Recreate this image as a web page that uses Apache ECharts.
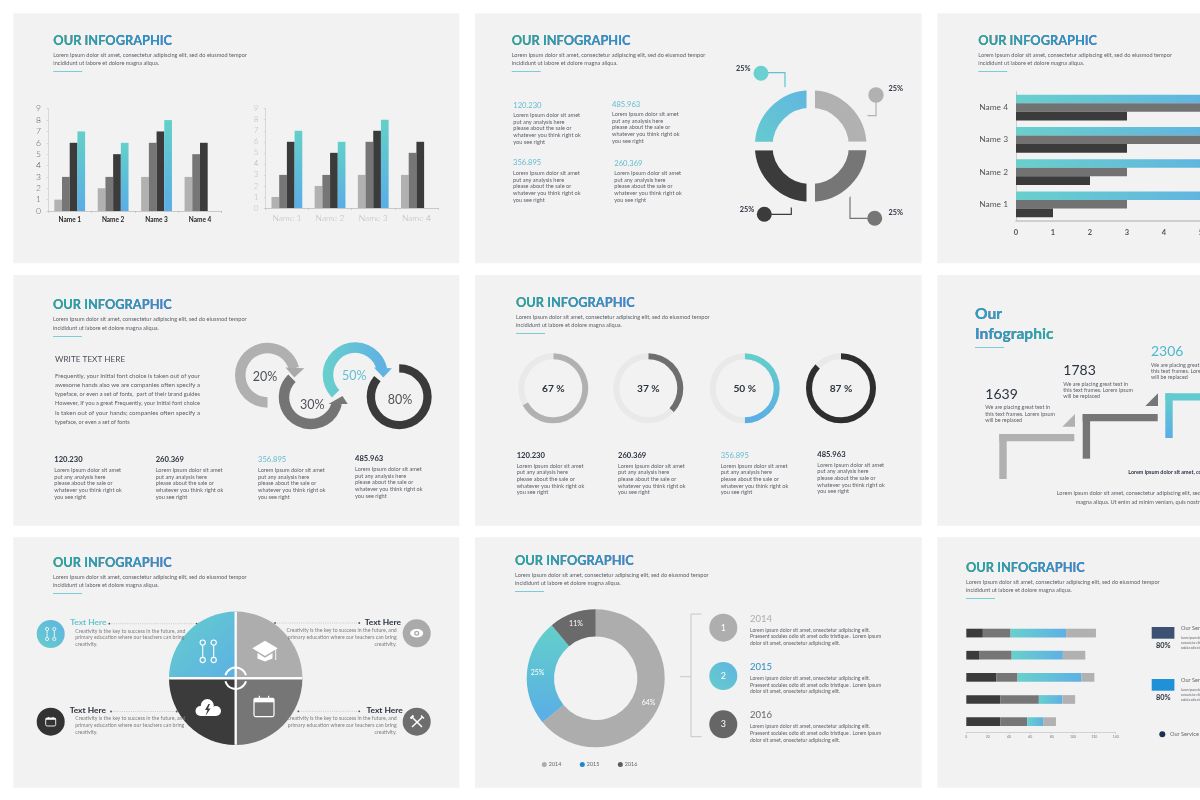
<!DOCTYPE html>
<html>
<head>
<meta charset="utf-8">
<style>html,body{margin:0;padding:0;background:#fff}#c{width:1200px;height:800px}</style>
<script src="https://cdn.jsdelivr.net/npm/echarts@6/dist/echarts.min.js"></script>
</head>
<body>
<div id="c"></div>
<script>
// ---------- DATA ----------
const names = ['Name 1', 'Name 2', 'Name 3', 'Name 4'];
const colLight = [1, 2, 3, 3];
const colMid = [3, 3, 6, 5];
const colDark = [6, 5, 7, 6];
const colTeal = [7, 6, 8, null];

const hDark = [1, 2, 3, 3];
const hMid = [3, 3, 5.2, 5.2];
const hTeal = [6, 6, 6, 6];

const quarterNames = ['Q2', 'Q3', 'Q4', 'Q1'];
const quarterValues = [25, 25, 25, 25];
const quarterLabels = ['25%', '25%', '25%', '25%'];

const arrowArcs = [71, 59, 59, 86];
const arrowLabels = ['20%', '30%', '50%', '80%'];

const gaugeValues = [67, 37, 50, 87];
const gaugeLabels = ['67 %', '37 %', '50 %', '87 %'];

const yearNames = ['2014', '2015', '2016'];
const yearValues = [64, 25, 11];
const yearLabels = ['64%', '25%', '11%'];

const stackRows = ['Row 1', 'Row 2', 'Row 3', 'Row 4', 'Row 5'];
const stackDark = [15.5, 12.5, 28, 32, 32];
const stackMid = [26, 30, 20, 36, 25];
const stackTeal = [52, 48, 60, 22, 15];
const stackLight = [28, 21, 12, 12, 12];

const loremTop = ['Lorem Ipsum dolor sit amet, consectetur adipiscing elit, sed do eiusmod tempor', 'incididunt ut labore et dolore magna aliqua.'];
const loremBlock = ['Lorem Ipsum dolor sit amet', 'put any analysis here', 'please about the sale or', 'whatever you think right ok', 'you see right'];
const numbers = ['120.230', '260.369', '356.895', '485.963'];
const paragraph = [
  'Frequently, your Initial font choice is taken out of your',
  'awesome hands also we are companies often specify a',
  'typeface, or even a set of fonts,  part of their brand guides',
  'However, If you a great Frequently, your Initial font choice',
  'Is taken out of your hands; companies often specify a',
  'typeface, or even a set of fonts'];
const stepNumbers = ['1639', '1783', '2306'];
const stepBody = ['We are placing great text in', 'this text frames. Lorem ipsum', 'will be replaced'];
const creativity = ['Creativity is the key to success in the future, and', 'primary education where our teachers can bring', 'creativity.'];
const yearBody = ['Lorem ipsum dolor sit amet, onsectetur adipiscing elit.', 'Praesent sodales odio sit amet odio tristique . Lorem ipsum', 'dolor sit amet, onsectetur adipiscing elit.'];

// ---------- STYLE ----------
const FONT = 'Lato';
const PANEL = '#f2f2f2', LIGHT = '#b1b1b1', MID = '#767676', DARK = '#3b3b3b', BODY = '#5c6067', INK = '#2b3340';
const grad = (x, y, x2, y2, a, b) => ({type:'linear',x:x,y:y,x2:x2,y2:y2,colorStops:[{offset:0,color:a},{offset:1,color:b}]});
const vGrad = () => grad(0,0,0,1,'#63d0c9','#5aade6');
const hGrad = () => grad(0,0,1,0,'#68d0cc','#5fb0e4');
const dGrad = () => grad(0,1,1,0,'#66cdcc','#5fb4e2');
const tlGrad = () => grad(0,0,1,1,'#66cfcb','#5cb0e4');

const measureCtx = document.createElement('canvas').getContext('2d');
const g = [];
function T(x, y, text, size, color, o) {
  o = o || {};
  const weight = o.weight || 'normal';
  const el = {type:'text', x:x, y:y, z:o.z || 60, silent:true, style:{
    text:text, fill:color, font: weight + ' ' + size + 'px ' + FONT, align:o.align || 'left', verticalAlign:'middle'
  }};
  if (o.fit) {
    measureCtx.font = el.style.font;
    el.scaleX = o.fit / measureCtx.measureText(text).width;
  }
  g.push(el);
}
function lines(x, y0, step, arr, size, color, o) { arr.forEach((t, i) => T(x, y0 + i * step, t, size, color, o)); }
function rect(x, y, w, h, fill, z, r) { g.push({type:'rect', z:z === undefined ? 1 : z, silent:true, shape:{x:x,y:y,width:w,height:h,r:r||0}, style:{fill:fill}}); }
function circle(x, y, r, fill, z, stroke, lw) { g.push({type:'circle', z:z === undefined ? 1 : z, silent:true, shape:{cx:x,cy:y,r:r}, style:{fill:fill, stroke:stroke||null, lineWidth:lw||0}}); }
function poly(pts, fill, z) { g.push({type:'polygon', z:z === undefined ? 1 : z, silent:true, shape:{points:pts}, style:{fill:fill}}); }
function pline(pts, stroke, lw, z, dash) { g.push({type:'polyline', z:z === undefined ? 1 : z, silent:true, shape:{points:pts}, style:{fill:null, stroke:stroke, lineWidth:lw, lineDash:dash||null}}); }
function arc(cx, cy, r, a, b, stroke, lw, z) { g.push({type:'arc', z:z, silent:true, shape:{cx:cx,cy:cy,r:r,startAngle:a,endAngle:b}, style:{fill:null, stroke:stroke, lineWidth:lw}}); }
// Title text is real text; a "lighten" gradient rectangle tints it as in the reference.
function title(x, y, text, size, w, c0, c1) {
  T(x, y, text, size, '#000000', {weight:'bold'});
  g.push({type:'rect', z:61, silent:true, shape:{x:x - 1, y:y - size * 0.62, width:w + 3, height:size * 1.24},
    style:{fill:grad(0,0,1,0,c0,c1), blend:'lighten'}});
}
function header(x, y) {
  title(x, y + 0.8, 'OUR INFOGRAPHIC', 12.8, 118, '#18aaa2', '#2b8fd2');
  lines(x, y + 15, 8.3, loremTop, 5.6, BODY);
  rect(x, Math.round(y + 31), 29, 1, '#7ccbd8', 2);
}

// ---------- PANELS ----------
[[13.3,13.3,446,250],[475,13.3,446.7,250],[937.3,13.3,263,250],
 [13.3,275,446,250.7],[475,275,446.7,250.7],[937.3,275,263,250.7],
 [13.3,537.3,446,250.4],[475,537.3,446.7,250.4],[937.3,537.3,263,250.4]]
 .forEach(p => g.push({type:'rect', z:-1, silent:true, shape:{x:p[0],y:p[1],width:p[2],height:p[3]}, style:{fill:PANEL}}));

header(53.3, 40); header(511.7, 40); header(978.3, 40);
header(53, 304.5); header(516, 302); header(53, 562); header(515, 560.3); header(966, 566.7);

// ---------- PANEL 2 TEXT + CALLOUTS ----------
function block(x, yNum, yBody, num, color, weight) {
  T(x, yNum, num, 7.6, color, {weight:weight || 'normal'});
  lines(x, yBody, 6.67, loremBlock, 5.6, BODY);
}
block(513.3, 105.3, 115.3, numbers[0], '#62bccf');
block(612, 104.3, 114.3, numbers[3], '#62bccf');
block(513, 163, 173.3, numbers[2], '#62bccf');
block(614.3, 163.3, 173.3, numbers[1], '#62bccf');
circle(761, 73.3, 7.5, '#6ccfd0', 5);
pline([[768,72.7],[785,72.7],[785,94]], '#5cc4d0', 1.2, 1);
circle(876, 95, 7.7, LIGHT, 5);
pline([[876,102],[876,115.7],[863.3,115.7]], LIGHT, 1.2, 1);
circle(764.3, 214.3, 7.5, DARK, 5);
pline([[771,214.3],[791.3,214.3],[791.3,201.7]], DARK, 1.2, 1);
circle(874.7, 218.3, 7.5, MID, 5);
pline([[867.3,218.3],[850,218.3],[850,191]], MID, 1.2, 1);
T(743.3, 68.5, quarterLabels[0], 7.3, INK, {weight:'bold', align:'center'});
T(895.7, 88.5, quarterLabels[1], 7.3, INK, {weight:'bold', align:'center'});
T(747, 210, quarterLabels[2], 7.3, INK, {weight:'bold', align:'center'});
T(895.7, 212.7, quarterLabels[3], 7.3, INK, {weight:'bold', align:'center'});

// ---------- PANEL 4 ----------
T(55, 359.3, 'WRITE TEXT HERE', 8.2, '#4a4f58');
[376, 385.2, 394.3, 403.6, 412.9].forEach((y, i) => T(55, y, paragraph[i], 5.5, BODY, {fit:145}));
T(55, 422, paragraph[5], 5.5, BODY);
[[54.3,460,470.3,0,INK],[155.7,460,470.3,1,INK],[258,460,470.3,2,'#62bccf'],[355,459,469.3,3,INK]].forEach(b =>
  block(b[0], b[1], b[2], numbers[b[3]], b[4], b[4] === INK ? 'bold' : 'normal'));
poly([[285.5,367.5],[304.3,368.3],[294.3,377.5]], '#a9a9a9', 5);
poly([[328.5,404],[347.7,404],[342.5,396]], MID, 5);
poly([[374,367.5],[391.9,368.3],[383.3,377.5]], '#5fb4e2', 5);
T(265, 376.7, arrowLabels[0], 12.5, '#4f5258', {align:'center'});
T(312.3, 405, arrowLabels[1], 12.5, '#4f5258', {align:'center'});
T(354.3, 375.7, arrowLabels[2], 12.5, '#62bfd2', {align:'center'});
T(400, 400, arrowLabels[3], 12.5, '#4f5258', {align:'center'});

// ---------- PANEL 5 ----------
const gaugeX = [553.3, 648.3, 744.7, 841];
gaugeLabels.forEach((t, i) => T(gaugeX[i], 388.3, t, 10.2, INK, {weight:'bold', align:'center'}));
[[516.7,455.3,465.7,0,INK],[618,455.3,465.7,1,INK],[720.7,455.3,465.7,2,'#62bccf'],[817.3,454.3,464.7,3,INK]].forEach(b =>
  block(b[0], b[1], b[2], numbers[b[3]], b[4], b[4] === INK ? 'bold' : 'normal'));

// ---------- PANEL 6 ----------
title(975, 314, 'Our', 15.6, 30, '#2a9fc4', '#2a9fc0');
title(975, 334, 'Infographic', 15.6, 79, '#2a97c8', '#20ada8');
rect(975, 347, 29, 1, '#7ccbd8', 2);
[[985.3,394.3,407.7,0,INK],[1063.3,370.3,384,1,INK],[1151,351,365,2,'#4fb8cf']].forEach(b => {
  T(b[0], b[1], stepNumbers[b[3]], 14, b[4]);
  lines(b[0], b[2], 6.2, stepBody, 5.4, BODY);
});
rect(999.3, 434, 7.4, 45, LIGHT); rect(999.3, 434, 75, 7.3, LIGHT);
poly([[1062.3,426.7],[1075,426.7],[1075,414]], LIGHT);
rect(1082.7, 414, 7.4, 44.7, MID); rect(1082.7, 414, 75, 7.3, MID);
poly([[1145.3,406],[1158,406],[1158,393.3]], MID);
rect(1165.3, 393.3, 7.4, 44.7, vGrad()); rect(1165.3, 393.3, 40, 7.3, '#63cad2');
T(1128.3, 472, 'Lorem ipsum dolor sit amet, consectetur adipiscing elit', 5.4, INK, {weight:'bold'});
T(1056.7, 493, 'Lorem ipsum dolor sit amet, consectetur adipiscing elit, sed do eiusmod tempor incididunt ut labore et dolore', 5.6, BODY);
T(1075.7, 501.7, 'magna aliqua. Ut enim ad minim veniam, quis nostrud exercitation', 5.6, BODY);

// ---------- PANEL 7 ----------
const cX = 235.7, cY = 678.3;
function callout(xText, yText, label, color, align, dotNear, dotFar, yDot, xBody, yBody) {
  T(xText, yText, label, 8.4, color, {weight:'bold', align:align});
  pline([[dotNear,yDot],[dotFar,yDot]], '#b9b9b9', 0.7, 1, [1,1.2]);
  circle(dotNear, yDot, 0.9, '#555', 1);
  circle(dotFar, yDot, 0.9, '#555', 1);
  lines(xBody, yBody, 6.67, creativity, 5.2, '#7d7d7d', {align:align});
}
callout(70.3, 622.7, 'Text Here', '#66c6cc', 'left', 109.3, 196.7, 623.7, 75.3, 631);
callout(401, 622.3, 'Text Here', INK, 'right', 359.3, 275, 623, 396.7, 630.7);
callout(69.7, 710.3, 'Text Here', INK, 'left', 111, 176.7, 711.5, 75.3, 718.7);
callout(402.7, 710.3, 'Text Here', INK, 'right', 359.3, 298.3, 711.3, 396.7, 718.7);
circle(50.7, 634, 14, dGrad(), 5);
circle(50.7, 721.7, 14, '#333', 5);
circle(416.7, 633.3, 14, '#aaaaaa', 5);
circle(416.7, 721.7, 14, '#6e6e6e', 5);
const Z = 40;
function linkIcon(x, y, dx, h, r, lw) {
  [-dx, dx].forEach(d => {
    circle(x + d, y - h, r, null, Z, '#fff', lw);
    circle(x + d, y + h, r, null, Z, '#fff', lw);
    pline([[x + d, y - h + r],[x + d, y + h - r]], '#fff', lw, Z);
  });
}
linkIcon(208.2, 651.3, 5.5, 8.7, 2.6, 1.1);
linkIcon(50.7, 634, 3.6, 5, 1.6, 0.8);
poly([[252.3,648.3],[265,640.7],[277.7,648.3],[265,656]], '#fff', Z);
poly([[257.5,653],[265,657.8],[272.5,653],[272.5,658.5],[265,661.5],[257.5,658.5]], '#fff', Z);
pline([[275.7,649],[275.7,660]], '#fff', 0.9, Z);
circle(207.3, 705.5, 6.5, '#fff', Z); circle(200.5, 711, 5, '#fff', Z); circle(216, 711, 5, '#fff', Z);
rect(200.5, 708, 15.5, 8, '#fff', Z);
poly([[208.5,704],[205,710],[207.5,710],[205.5,716],[210.5,708.5],[208,708.5],[210,704]], DARK, Z + 1);
function calIcon(x, y, w, h, lw) {
  g.push({type:'rect', z:Z, silent:true, shape:{x:x,y:y,width:w,height:h,r:1.5}, style:{fill:null, stroke:'#fff', lineWidth:lw}});
  rect(x, y, w, h * 0.22, '#fff', Z);
  pline([[x + w * 0.27, y - h * 0.14],[x + w * 0.27, y + h * 0.1]], '#fff', lw, Z);
  pline([[x + w * 0.73, y - h * 0.14],[x + w * 0.73, y + h * 0.1]], '#fff', lw, Z);
}
calIcon(254, 698.3, 20, 18.3, 1.2);
calIcon(45.7, 718, 10, 8, 0.9);
g.push({type:'ellipse', z:Z, silent:true, shape:{cx:416.7,cy:633.3,rx:6.5,ry:4.2}, style:{fill:'#fff'}});
circle(416.7, 633.3, 2.5, '#aaaaaa', Z + 1);
circle(416.7, 633.3, 1.2, '#fff', Z + 2);
pline([[412,717],[422,727]], '#fff', 1.5, Z);
pline([[422.5,717],[412,727]], '#fff', 1.5, Z);
pline([[410.5,718.5],[413.5,715.5]], '#fff', 2, Z);
pline([[421,715.5],[424,718.5]], '#fff', 1.2, Z);
rect(cX - 66.5, cY - 1.2, 133, 2.4, '#fbfbfb', 30);
rect(cX - 1.2, cY - 66.5, 2.4, 133, '#fbfbfb', 30);
arc(cX, cY, 10.7, Math.PI + 0.28, 2 * Math.PI - 0.28, '#fff', 2, Z);
arc(cX, cY, 10.7, 0.28, Math.PI - 0.28, '#fff', 2, Z);

// ---------- PANEL 8 ----------
pline([[701.7,614],[691,614],[691,736.7],[701.7,736.7]], '#bdbdbd', 0.8, 1);
pline([[680,676.7],[691,676.7]], '#bdbdbd', 0.8, 1);
circle(723.3, 627.7, 14, '#aeaeae', 5);
circle(723.3, 676, 14, dGrad(), 5);
circle(723.3, 724.3, 14, '#666', 5);
['1','2','3'].forEach((n, i) => T(723.3, [627.7,676,724.3][i], n, 9, '#fff', {align:'center'}));
[[618.7,'#adadad',630],[667,'#2a8fc6',678.3],[715,'#666',726.7]].forEach((b, i) => {
  T(750, b[0], yearNames[i], 9.5, b[1]);
  lines(750, b[2], 6.67, yearBody, 5.1, BODY, {});
});

// ---------- PANEL 9 RIGHT ----------
rect(1151.7, 627, 22.7, 11.7, '#3d5272');
rect(1151.7, 679, 22.7, 11.7, '#2090d8');
T(1163.3, 645.7, '80%', 7.4, INK, {weight:'bold', align:'center'});
T(1163.3, 697.7, '80%', 7.4, INK, {weight:'bold', align:'center'});
T(1181, 627.7, 'Our Service', 5.6, '#666');
T(1181, 680, 'Our Service', 5.6, '#666');
[637.7, 690].forEach(y => lines(1181, y, 5, ['Lorem ipsum dolor', 'consectetur elit sed', 'sodales odio sit'], 2.8, BODY));
circle(1162.3, 734.3, 3, '#1f3050');
T(1170, 733.7, 'Our Service', 5.6, '#666');

// ---------- SERIES ----------
function bar(name, data, color, xi, w) {
  return {type:'bar', name:name, data:data, xAxisIndex:xi, yAxisIndex:xi, barWidth:w, barGap:'0%', silent:true, itemStyle:{color:color}};
}
function stackBar(name, data, color) {
  return {type:'bar', name:name, data:data, xAxisIndex:3, yAxisIndex:3, barWidth:8.7, stack:'total', silent:true, itemStyle:{color:color}};
}
function pie(center, radius, start, data) {
  return {type:'pie', center:center, radius:radius, startAngle:start, silent:true, label:{show:false}, labelLine:{show:false}, data:data};
}
function arcData(v, color) {
  return [{value:v, name:'arc', itemStyle:{color:color}}, {value:100 - v, name:'rest', itemStyle:{color:'transparent'}}];
}
function gaugeData(v, color) {
  return [{value:v, name:'done', itemStyle:{color:color}}, {value:100 - v, name:'todo', itemStyle:{color:'#e9e9e9'}}];
}
function quadPie(center, radius, border, colors) {
  return pie(center, radius, 90, quarterValues.map((v, i) => ({value:v, name:quarterNames[i], itemStyle:{color:colors[i], borderColor:border[0], borderWidth:border[1]}})));
}

const gaugeColors = [LIGHT, '#6e6e6e', vGrad(), '#2e2e2e'];
const series = [
  bar('a', colLight, LIGHT, 0, 7.7), bar('b', colMid, MID, 0, 7.7), bar('c', colDark, DARK, 0, 7.7), bar('d', colTeal, vGrad(), 0, 7.7),
  bar('a', colLight, LIGHT, 1, 7.7), bar('b', colMid, MID, 1, 7.7), bar('c', colDark, DARK, 1, 7.7), bar('d', colTeal, vGrad(), 1, 7.7),
  bar('c', hTeal, hGrad(), 2, 8.6), bar('b', hMid, '#727272', 2, 8.6), bar('a', hDark, DARK, 2, 8.6),
  stackBar('a', stackDark, DARK), stackBar('b', stackMid, MID), stackBar('c', stackTeal, hGrad()), stackBar('d', stackLight, LIGHT),
  quadPie([810.7,146], [34,60], [PANEL,8.4], [LIGHT, MID, DARK, dGrad()]),
  pie([267.5,375.2], [22,32.5], 270, arcData(arrowArcs[0], '#b0b0b0')),
  pie([310.7,397.3], [21.5,32], 347, arcData(arrowArcs[1], '#747474')),
  pie([355.2,374.8], [22,32.5], 224, arcData(arrowArcs[2], hGrad())),
  pie([399.2,396.8], [24.2,32.5], 90, arcData(arrowArcs[3], '#3a3a3a')),
  ...gaugeValues.map((v, i) => pie([gaugeX[i],388.3], [29,35], 90, gaugeData(v, gaugeColors[i]))),
  quadPie([cX,cY], [0,66.7], ['transparent',0], ['#adadad', MID, DARK, tlGrad()]),
  pie([595.7,678.3], [41.7,69], 90, yearValues.map((v, i) => ({
    value:v, name:yearNames[i],
    itemStyle:{color:['#adadad', vGrad(), '#6a6a6a'][i]},
    label:{show:true, position:'inside', formatter:yearLabels[i], color:'#fff', fontFamily:FONT, fontSize:7}
  })))
];

const axisLine = c => ({show:true, lineStyle:{color:c, width:0.8}});
const tick = (c, l) => ({show:true, length:l, lineStyle:{color:c, width:0.7}});
function colAxes(gi, xl, yl) {
  return {
    x:{type:'category', gridIndex:gi, data:names, axisLine:axisLine('#bdbdbd'), axisTick:tick('#bdbdbd',2), axisLabel:xl, splitLine:{show:false}},
    y:{type:'value', gridIndex:gi, min:0, max:9, interval:1, axisLine:axisLine('#cfcfcf'), axisTick:tick('#cfcfcf',1.5), axisLabel:yl, splitLine:{show:false}}
  };
}
const ax0 = colAxes(0,
  {color:'#1f1f1f', fontFamily:FONT, fontWeight:'bold', fontSize:6.5, margin:5},
  {color:'#5a5a5a', fontFamily:FONT, fontWeight:300, fontSize:8.5, margin:7});
const ax1 = colAxes(1,
  {color:'#b9b9b9', fontFamily:FONT, fontWeight:300, fontSize:8.5, margin:6},
  {color:'#b9b9b9', fontFamily:FONT, fontWeight:300, fontSize:8, margin:7});

const option = {
  animation:false,
  backgroundColor:'#ffffff',
  grid:[
    {left:48, top:108.7, width:173.7, height:102.3, outerBoundsMode:'none'},
    {left:265.3, top:108.7, width:172.7, height:99.3, outerBoundsMode:'none'},
    {left:1016, top:91.4, width:222, height:129, outerBoundsMode:'none'},
    {left:966.3, top:622, width:149.4, height:110.7, outerBoundsMode:'none'}
  ],
  xAxis:[ax0.x, ax1.x,
    {type:'value', gridIndex:2, min:0, max:6, interval:1, axisLine:{show:true, lineStyle:{color:'#c4c4c4', width:1.5}}, axisTick:{show:false}, splitLine:{show:false},
     axisLabel:{color:'#555', fontFamily:FONT, fontWeight:'bold', fontSize:7.5, margin:8.5}},
    {type:'value', gridIndex:3, min:0, max:140, interval:20, axisLine:axisLine('#c9c9c9'), axisTick:tick('#c9c9c9',1.2), splitLine:{show:false},
     axisLabel:{color:'#777', fontFamily:FONT, fontSize:3.4, margin:3}}
  ],
  yAxis:[ax0.y, ax1.y,
    {type:'category', gridIndex:2, data:names, axisLine:axisLine('#c4c4c4'), axisTick:{show:false},
     axisLabel:{color:'#555', fontFamily:FONT, fontSize:8.4, margin:8}},
    {type:'category', gridIndex:3, data:stackRows, inverse:true, axisLine:{show:false}, axisTick:{show:false}, axisLabel:{show:false}}
  ],
  legend:{
    left:541.8, top:762, padding:0, orient:'horizontal', itemWidth:5, itemHeight:5, itemGap:18.5, icon:'circle', selectedMode:false,
    textStyle:{fontFamily:FONT, fontSize:5.4, color:'#666', padding:[0,0,0,-3]},
    data:[{name:'2014', itemStyle:{color:'#adadad'}},{name:'2015', itemStyle:{color:'#1e86d0'}},{name:'2016', itemStyle:{color:'#5c5c5c'}}]
  },
  graphic:{elements:g},
  series:series
};
const chart = echarts.init(document.getElementById('c'), null, {renderer:'canvas', width:1200, height:800});
chart.setOption(option);
</script>
</body>
</html>
